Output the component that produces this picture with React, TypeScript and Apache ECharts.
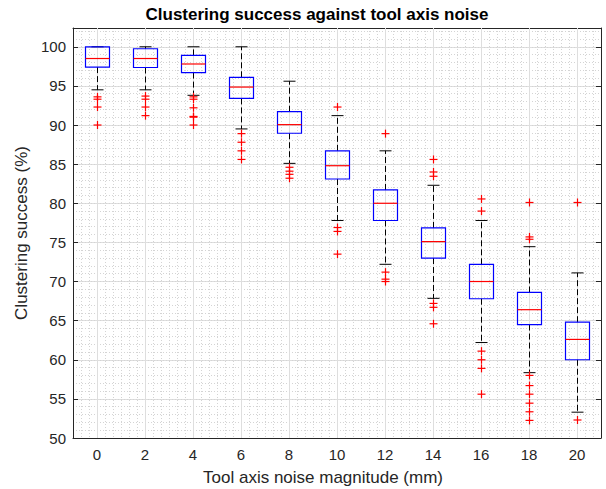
import React, { useEffect, useRef } from "react";
import * as echarts from "echarts";

const categories = ["0", "2", "4", "6", "8", "10", "12", "14", "16", "18", "20"];
const whiskerLow = [94.5, 94.5, 93.8, 89.5, 85.1, 77.8, 72.2, 67.85, 62.2, 58.35, 53.3];
const quartile1 = [97.4, 97.35, 96.7, 93.4, 88.95, 83.1, 77.8, 73.0, 67.8, 64.5, 60.0];
const medians = [98.5, 98.5, 97.8, 94.85, 90.05, 84.8, 80.0, 75.1, 70.0, 66.4, 62.6];
const quartile3 = [100, 99.75, 98.9, 96.1, 91.7, 86.7, 81.7, 76.85, 72.2, 68.6, 64.8];
const whiskerHigh = [100, 100, 100, 100, 95.6, 91.2, 86.7, 82.3, 77.8, 74.45, 71.1];
const outliers = [
  [93.6, 93.3, 92.3, 90.0],
  [93.7, 93.3, 92.3, 91.2],
  [93.6, 93.3, 92.2, 91.1, 91.0, 90.0],
  [88.9, 87.8, 86.7, 85.6],
  [84.6, 84.1, 83.7, 83.2],
  [92.3, 76.9, 76.4, 73.5],
  [88.9, 71.2, 70.3, 70.0],
  [85.6, 84.0, 83.45, 67.2, 66.7, 64.6],
  [80.55, 79.0, 61.1, 60.0, 58.9, 55.6],
  [80.1, 75.7, 75.4, 58.0, 56.7, 55.6, 54.45, 53.35, 52.25],
  [80.1, 52.3],
];
const yTicks = { min: 50, max: 102.4, interval: 5 };

const FONT = "'Liberation Sans', Arial, Helvetica, sans-serif";
const AXIS = "#262626";

export default function App() {
  const ref = useRef<HTMLDivElement>(null);
  useEffect(() => {
    if (!ref.current) return;
    const chart = echarts.init(ref.current, null, { renderer: "svg" });

    const boxData = categories.map((_, i) => [
      i,
      whiskerLow[i],
      quartile1[i],
      medians[i],
      quartile3[i],
      whiskerHigh[i],
    ]);
    const outlierData: number[][] = [];
    outliers.forEach((list, i) => list.forEach((v) => outlierData.push([i, v])));
    const gridData = categories.map((_, i) => [i]);

    const hiddenParts = {
      axisLine: { show: false },
      axisTick: { show: false },
      axisLabel: { show: false },
    };
    const minorLine = { show: true, lineStyle: { color: "#d4d4d4", width: 1, type: [1, 2] } };

    chart.setOption({
      animation: false,
      backgroundColor: "#ffffff",
      title: {
        text: "Clustering success against tool axis noise",
        left: 312,
        textAlign: "center",
        top: 1,
        textStyle: { fontFamily: FONT, fontSize: 17, fontWeight: "bold", color: "#000" },
      },
      grid: { left: 73, right: 5, top: 28, bottom: 51, containLabel: false },
      graphic: [
        {
          type: "text",
          x: 323,
          y: 477,
          style: {
            text: "Tool axis noise magnitude (mm)",
            fontFamily: FONT,
            fontSize: 17,
            fill: AXIS,
            align: "center",
            verticalAlign: "middle",
          },
        },
      ],
      xAxis: [
        {
          type: "category",
          data: categories,
          position: "bottom",
          boundaryGap: true,
          axisLine: { show: true, lineStyle: { color: AXIS, width: 1 } },
          axisTick: { show: true, inside: true, length: 5, alignWithLabel: true, interval: 0, lineStyle: { color: AXIS } },
          axisLabel: { show: true, interval: 0, margin: 9, fontFamily: FONT, fontSize: 15, color: AXIS },
          splitLine: { show: false },
        },
        {
          type: "category",
          data: categories,
          position: "top",
          boundaryGap: true,
          axisLine: { show: true, lineStyle: { color: AXIS, width: 1 } },
          axisTick: { show: true, inside: true, length: 5, alignWithLabel: true, interval: 0, lineStyle: { color: AXIS } },
          axisLabel: { show: false },
          splitLine: { show: false },
        },
        {
          type: "value",
          min: 0,
          max: 66,
          interval: 1,
          position: "bottom",
          ...hiddenParts,
          splitLine: minorLine,
        },
      ],
      yAxis: [
        {
          type: "value",
          position: "left",
          min: yTicks.min,
          max: yTicks.max,
          interval: yTicks.interval,
          name: "Clustering success (%)",
          nameLocation: "middle",
          nameGap: 41,
          nameRotate: 90,
          nameTextStyle: { fontFamily: FONT, fontSize: 17, color: AXIS },
          axisLine: { show: true, lineStyle: { color: AXIS, width: 1 } },
          axisTick: { show: true, inside: true, length: 5, lineStyle: { color: AXIS } },
          axisLabel: { show: true, showMaxLabel: false, margin: 7, fontFamily: FONT, fontSize: 15, color: AXIS },
          splitLine: { show: true, lineStyle: { color: "#dedede", width: 1 } },
        },
        {
          type: "value",
          position: "right",
          min: yTicks.min,
          max: yTicks.max,
          interval: yTicks.interval,
          axisLine: { show: true, lineStyle: { color: AXIS, width: 1 } },
          axisTick: { show: true, inside: true, length: 5, lineStyle: { color: AXIS } },
          axisLabel: { show: false },
          splitLine: { show: false },
        },
        {
          type: "value",
          position: "left",
          min: yTicks.min,
          max: yTicks.max,
          interval: 1,
          ...hiddenParts,
          splitLine: minorLine,
        },
      ],
      series: [
        {
          type: "custom",
          name: "grid",
          silent: true,
          z: 1,
          xAxisIndex: 0,
          yAxisIndex: 0,
          data: gridData,
          encode: { x: 0 },
          renderItem: (params: any, api: any) => {
            const cs = params.coordSys;
            const x = Math.round(api.coord([api.value(0), 60])[0]) + 0.5;
            return {
              type: "line",
              shape: { x1: x, y1: cs.y, x2: x, y2: cs.y + cs.height },
              style: { stroke: "#dedede", lineWidth: 1 },
            };
          },
        },
        {
          type: "custom",
          name: "boxes",
          silent: true,
          z: 3,
          xAxisIndex: 0,
          yAxisIndex: 0,
          data: boxData,
          encode: { x: 0, y: [1, 2, 3, 4, 5] },
          renderItem: (params: any, api: any) => {
            const idx = api.value(0);
            const bw = api.size([1, 0])[0];
            const half = bw * 0.25;
            const capHalf = bw * 0.125;
            const x = Math.round(api.coord([idx, api.value(3)])[0]) + 0.5;
            const yLo = api.coord([idx, api.value(1)])[1];
            const yQ1 = api.coord([idx, api.value(2)])[1];
            const yMed = api.coord([idx, api.value(3)])[1];
            const yQ3 = api.coord([idx, api.value(4)])[1];
            const yHi = api.coord([idx, api.value(5)])[1];
            const dash = { stroke: "#000000", lineWidth: 1, lineDash: [6, 3], fill: null };
            const solid = { stroke: "#000000", lineWidth: 1, fill: null };
            return {
              type: "group",
              children: [
                { type: "line", shape: { x1: x, y1: yQ3, x2: x, y2: yHi }, style: dash },
                { type: "line", shape: { x1: x, y1: yQ1, x2: x, y2: yLo }, style: dash },
                { type: "line", shape: { x1: x - capHalf, y1: yHi, x2: x + capHalf, y2: yHi }, style: solid },
                { type: "line", shape: { x1: x - capHalf, y1: yLo, x2: x + capHalf, y2: yLo }, style: solid },
                {
                  type: "rect",
                  shape: { x: x - half, y: yQ3, width: half * 2, height: yQ1 - yQ3 },
                  style: { stroke: "#0000ff", lineWidth: 1.2, fill: null },
                },
                {
                  type: "line",
                  shape: { x1: x - half, y1: yMed, x2: x + half, y2: yMed },
                  style: { stroke: "#ff0000", lineWidth: 1.2, fill: null },
                },
              ],
            };
          },
        },
        {
          type: "custom",
          name: "outliers",
          silent: true,
          z: 4,
          xAxisIndex: 0,
          yAxisIndex: 0,
          data: outlierData,
          encode: { x: 0, y: 1 },
          renderItem: (params: any, api: any) => {
            const p = api.coord([api.value(0), api.value(1)]);
            const x = Math.round(p[0]) + 0.5;
            const y = p[1];
            const s = 4;
            const st = { stroke: "#ff0000", lineWidth: 1.2, fill: null };
            return {
              type: "group",
              children: [
                { type: "line", shape: { x1: x - s, y1: y, x2: x + s, y2: y }, style: st },
                { type: "line", shape: { x1: x, y1: y - s, x2: x, y2: y + s }, style: st },
              ],
            };
          },
        },
      ],
    });
    return () => chart.dispose();
  }, []);
  return (
    <div
      ref={ref}
      style={{ position: "fixed", left: 0, top: 0, width: 606, height: 489, background: "#fff" }}
    />
  );
}
